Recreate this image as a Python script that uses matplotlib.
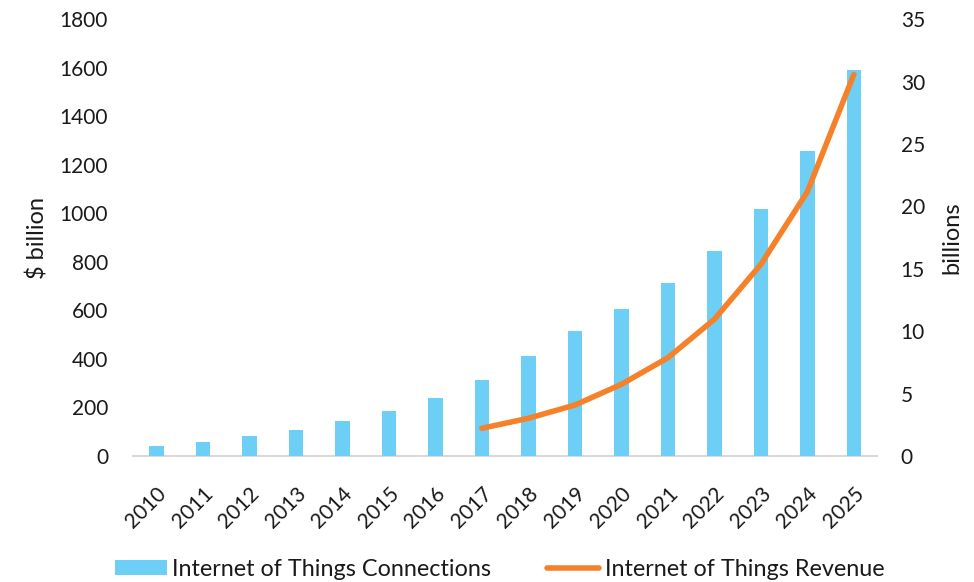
import matplotlib
matplotlib.use("Agg")
import matplotlib.pyplot as plt
import numpy as np

plt.rcParams['font.family'] = ['Lato', 'DejaVu Sans']

years = ['2010', '2011', '2012', '2013', '2014', '2015', '2016', '2017',
         '2018', '2019', '2020', '2021', '2022', '2023', '2024', '2025']
connections = [41, 58, 82, 107, 144, 185, 239, 313,
               412, 515, 604, 711, 844, 1019, 1256, 1591]
revenue_years = ['2017', '2018', '2019', '2020', '2021', '2022', '2023', '2024', '2025']
revenue = [2.22, 3.02, 4.08, 5.74, 7.87, 10.95, 15.35, 21.17, 30.57]

left_ticks = [0, 200, 400, 600, 800, 1000, 1200, 1400, 1600, 1800]
right_ticks = [0, 5, 10, 15, 20, 25, 30, 35]

bar_color = '#6DCFF6'
line_color = '#F5822A'
text_color = '#1a1a1a'

fig = plt.figure(figsize=(9.74, 5.82), dpi=100)
ax = fig.add_axes([0.1366, 0.2165, 0.7639, 0.7505])
ax2 = ax.twinx()

x = np.arange(len(years))
bars = ax.bar(x, connections, width=0.31, color=bar_color, zorder=2,
              label='Internet of Things Connections')
rx = [years.index(y) for y in revenue_years]
line, = ax2.plot(rx, revenue, color=line_color, lw=4, solid_capstyle='round',
                 solid_joinstyle='round', zorder=3, label='Internet of Things Revenue')

ax.set_xlim(-0.5, len(years) - 0.5)
ax.set_ylim(0, 1800)
ax2.set_ylim(0, 35)
ax.set_yticks(left_ticks)
ax2.set_yticks(right_ticks)
ax.set_xticks(x)
ax.set_xticklabels(years, rotation=45, ha='right', rotation_mode='anchor',
                   fontsize=15, color=text_color)
ax.tick_params(axis='x', length=0, pad=20)
ax.tick_params(axis='y', length=0, pad=18, labelsize=15, labelcolor=text_color)
ax2.tick_params(axis='y', length=0, pad=17, labelsize=15, labelcolor=text_color)
for lbl in ax2.get_yticklabels():
    lbl.set_horizontalalignment('left')

for a in (ax, ax2):
    for side in ('top', 'left', 'right', 'bottom'):
        a.spines[side].set_visible(False)
ax.spines['bottom'].set_visible(True)
ax.spines['bottom'].set_color('#d9d9d9')
ax.spines['bottom'].set_linewidth(1.5)
ax.spines['bottom'].set_zorder(1)

ax.set_ylabel('$ billion', fontsize=17, color=text_color, labelpad=8)
ax2.set_ylabel('billions', fontsize=17, color=text_color, labelpad=12)

fig.legend(handles=[bars, line], loc='lower center', bbox_to_anchor=(0.513, -0.032),
           ncol=2, frameon=False, fontsize=16.8, handlelength=2.2, handleheight=0.6,
           handletextpad=0.25, columnspacing=2.4, labelcolor=text_color)

fig.savefig('out.png', dpi=100, facecolor='white')
